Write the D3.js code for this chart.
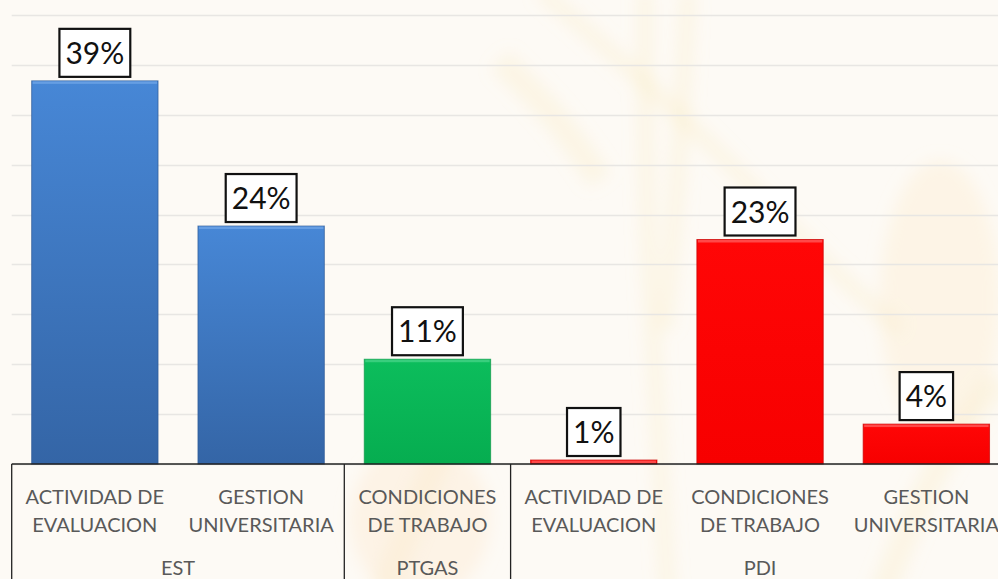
<!DOCTYPE html>
<html>
<head>
<meta charset="utf-8">
<script src="https://cdn.jsdelivr.net/npm/d3@7"></script>
<style>
    html, body { margin: 0; padding: 0; background: #fdfaf5; overflow: hidden; }
    svg { display: block; }
    .grid line { stroke: #e8e6e3; stroke-width: 1.3; }
    .cat { font-family: Lato, "Open Sans", sans-serif; font-size: 20px; fill: #595959; }
    .lbl { font-family: Lato, "Open Sans", sans-serif; font-size: 30px; fill: #111; }
</style>
</head>
<body>
<svg id="chart"></svg>
<script>
"use strict";

// data
var groups = ["EST", "PTGAS", "PDI"];
var groupSizes = [2, 1, 3];
var categories = [
    ["ACTIVIDAD DE", "EVALUACION"],
    ["GESTION", "UNIVERSITARIA"],
    ["CONDICIONES", "DE TRABAJO"],
    ["ACTIVIDAD DE", "EVALUACION"],
    ["CONDICIONES", "DE TRABAJO"],
    ["GESTION", "UNIVERSITARIA"]
];
var barGroup = [0, 0, 1, 2, 2, 2];
var values = [0.384, 0.2385, 0.105, 0.004, 0.225, 0.040];
var valueLabels = ["39%", "24%", "11%", "1%", "23%", "4%"];
var gridTicks = [0, 0.05, 0.10, 0.15, 0.20, 0.25, 0.30, 0.35, 0.40, 0.45];

var width = 998, height = 579;
var plotLeft = 11.7, plotRight = 1009.5, baseY = 464, topY = 15;

var svg = d3.select("#chart").attr("width", width).attr("height", height);

var x = d3.scaleBand()
    .domain(d3.range(values.length))
    .range([plotLeft, plotRight])
    .paddingInner(0.24)
    .paddingOuter(0.12);

var y = d3.scaleLinear().domain([0, 0.45]).range([baseY, topY]);

// gradients for the bars (light top, darker bottom)
var palette = [
    { top: "#4787d6", bottom: "#3465a6", edge: "#2d5a96", hi: "#6ea4e6" },
    { top: "#0cbd5c", bottom: "#06ad50", edge: "#089645", hi: "#45d286" },
    { top: "#ff0606", bottom: "#f70000", edge: "#c80000", hi: "#ff5a5a" }
];

var defs = svg.append("defs");
palette.forEach(function (p, i) {
    var g = defs.append("linearGradient")
        .attr("id", "bar-grad-" + i)
        .attr("x1", 0).attr("x2", 0).attr("y1", 0).attr("y2", 1);
    g.append("stop").attr("offset", "0%").attr("stop-color", p.top);
    g.append("stop").attr("offset", "100%").attr("stop-color", p.bottom);
});

defs.append("filter").attr("id", "soft")
    .attr("x", "-50%").attr("y", "-50%").attr("width", "200%").attr("height", "200%")
    .append("feGaussianBlur").attr("stdDeviation", 8);

//
// faint background picture (wheat stalks)
//
var bg = svg.append("g").attr("filter", "url(#soft)");
var stalks = [
    [[540, -10], [700, 130], [820, 260], [900, 330]],
    [[645, -10], [645, 200], [658, 420], [668, 600]],
    [[688, -10], [680, 160], [665, 330]],
    [[880, 600], [930, 470], [998, 380]],
    [[380, 600], [420, 500], [470, 380]],
    [[600, 180], [560, 120], [500, 60]]
];
bg.selectAll("path")
    .data(stalks)
    .enter().append("path")
    .attr("d", d3.line().curve(d3.curveBasis))
    .attr("fill", "none")
    .attr("stroke", "#f8e2ad")
    .attr("stroke-width", function (d, i) { return i < 3 ? 16 : 26; })
    .attr("stroke-opacity", 0.22);
bg.append("ellipse")
    .attr("cx", 420).attr("cy", 520).attr("rx", 70).attr("ry", 80)
    .attr("fill", "#fbe6c8").attr("opacity", 0.35);
bg.append("ellipse")
    .attr("cx", 940).attr("cy", 300).attr("rx", 60).attr("ry", 140)
    .attr("fill", "#fbe9c4").attr("opacity", 0.3);

//
// grid
//
svg.append("g").attr("class", "grid")
    .selectAll("line")
    .data(gridTicks)
    .enter().append("line")
    .attr("x1", plotLeft)
    .attr("x2", width)
    .attr("y1", function (d) { return Math.round(y(d)) + 0.5; })
    .attr("y2", function (d) { return Math.round(y(d)) + 0.5; });

//
// bars
//
var bars = svg.append("g").selectAll("g.bar")
    .data(values)
    .enter().append("g")
    .attr("class", "bar");

bars.append("rect")
    .attr("x", function (d, i) { return x(i); })
    .attr("y", function (d) { return y(d); })
    .attr("width", x.bandwidth())
    .attr("height", function (d) { return baseY - y(d); })
    .attr("fill", function (d, i) { return "url(#bar-grad-" + barGroup[i] + ")"; })
    .attr("stroke", function (d, i) { return palette[barGroup[i]].edge; })
    .attr("stroke-width", 1)
    .attr("stroke-opacity", 0.7);

// bevel highlight on top
bars.append("rect")
    .attr("x", function (d, i) { return x(i) + 1; })
    .attr("y", function (d) { return y(d) + 0.5; })
    .attr("width", x.bandwidth() - 2)
    .attr("height", function (d) { return Math.min(2.5, baseY - y(d) - 1); })
    .attr("fill", function (d, i) { return palette[barGroup[i]].hi; })
    .attr("opacity", 0.8);

//
// value labels in boxes
//
var labels = svg.append("g").selectAll("g.label")
    .data(values)
    .enter().append("g")
    .attr("class", "label")
    .attr("transform", function (d, i) {
        return "translate(" + (x(i) + x.bandwidth() / 2) + "," + (y(d) - 28) + ")";
    });

labels.append("text")
    .attr("class", "lbl")
    .attr("text-anchor", "middle")
    .attr("y", 11)
    .text(function (d, i) { return valueLabels[i]; });

labels.insert("rect", "text")
    .attr("fill", "#ffffff")
    .attr("stroke", "#111")
    .attr("stroke-width", 2.2)
    .attr("height", 48)
    .attr("y", -24)
    .each(function () {
        var t = this.parentNode.querySelector("text");
        var w = t.getComputedTextLength() + 12;
        d3.select(this).attr("x", -w / 2).attr("width", w);
    });

//
// category axis
//
var axis = svg.append("g");

axis.append("line")
    .attr("x1", plotLeft).attr("x2", width)
    .attr("y1", baseY).attr("y2", baseY)
    .attr("stroke", "#222").attr("stroke-width", 1.3);

var starts = [0];
groupSizes.forEach(function (n, i) { starts.push(starts[i] + n); });
var step = x.step();
var groupEdge = function (k) { return plotLeft + starts[k] * step; };

axis.selectAll("line.sep")
    .data(starts.slice(0, groups.length))
    .enter().append("line")
    .attr("class", "sep")
    .attr("x1", function (d) { return plotLeft + d * step; })
    .attr("x2", function (d) { return plotLeft + d * step; })
    .attr("y1", baseY).attr("y2", height)
    .attr("stroke", "#222").attr("stroke-width", 1.3);

var catText = axis.selectAll("text.cat1")
    .data(categories)
    .enter().append("text")
    .attr("class", "cat")
    .attr("text-anchor", "middle")
    .attr("x", function (d, i) { return x(i) + x.bandwidth() / 2; })
    .attr("y", 504);
catText.append("tspan")
    .attr("x", function (d, i) { return x(i) + x.bandwidth() / 2; })
    .text(function (d) { return d[0]; });
catText.append("tspan")
    .attr("x", function (d, i) { return x(i) + x.bandwidth() / 2; })
    .attr("dy", 28)
    .text(function (d) { return d[1]; });

axis.selectAll("text.grp")
    .data(groups)
    .enter().append("text")
    .attr("class", "cat grp")
    .attr("text-anchor", "middle")
    .attr("x", function (d, i) { return (groupEdge(i) + groupEdge(i + 1)) / 2; })
    .attr("y", 575)
    .text(function (d) { return d; });
</script>
</body>
</html>
